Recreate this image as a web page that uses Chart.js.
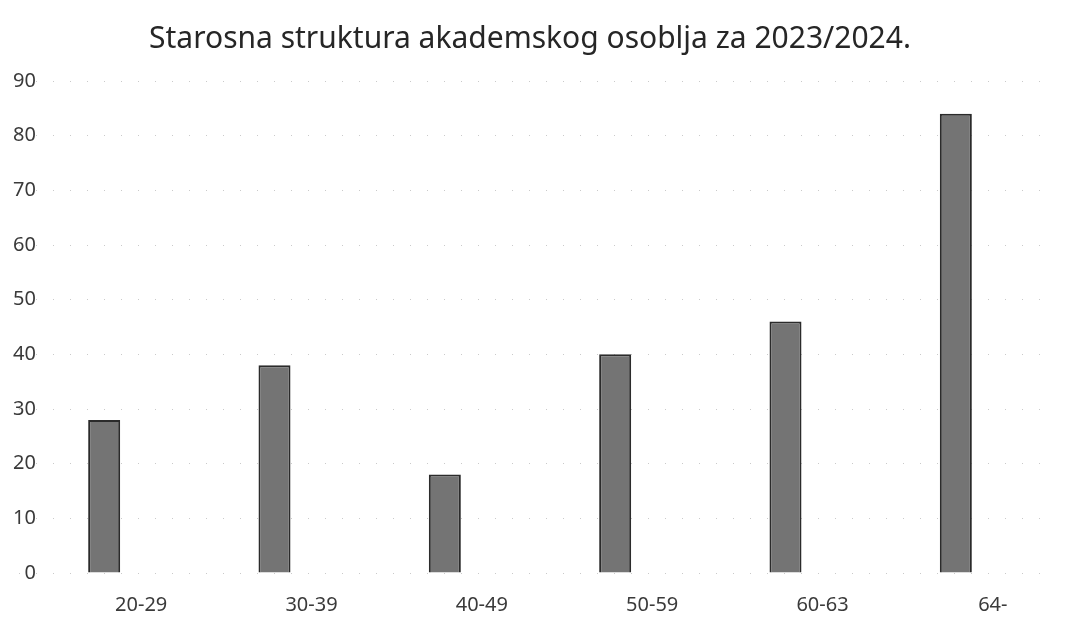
<!DOCTYPE html>
<html>
<head>
<meta charset="utf-8">
<script src="https://cdn.jsdelivr.net/npm/chart.js@4"></script>
<style>
  html, body { margin: 0; padding: 0; background: #fff; }
  #wrap { width: 1069px; height: 636px; }
</style>
</head>
<body>
<div id="wrap"><canvas id="bar-chart"></canvas></div>
<script>
// age groups and headcount per group
const ageGroups = ["20-29", "30-39", "40-49", "50-59", "60-63", "64-"];
const staffCount = [28, 38, 18, 40, 46, 84];
const yTicks = [0, 10, 20, 30, 40, 50, 60, 70, 80, 90];

const txt = '#3a3a3a';

new Chart(document.getElementById("bar-chart"), {
    type: 'bar',
    data: {
      labels: ageGroups,
      datasets: [
        {
          label: "Broj",
          data: staffCount,
          backgroundColor: '#747474',
          borderColor: '#2b2b2b',
          borderWidth: 2,
          barPercentage: 0.188,
          categoryPercentage: 1
        }
      ]
    },
    options: {
      responsive: true,
      maintainAspectRatio: false,
      animation: false,
      layout: { padding: { left: 19, right: 28, top: 0, bottom: 7 } },
      plugins: {
        legend: { display: false },
        tooltip: { enabled: false },
        title: {
          display: true,
          text: 'Starosna struktura akademskog osoblja za 2023/2024.',
          color: '#262626',
          font: { family: 'Noto Sans', size: 30, weight: 'normal' },
          padding: { top: 21, bottom: 24 }
        }
      },
      scales: {
        x: {
          grid: { display: false },
          border: { display: false },
          ticks: {
            color: txt,
            font: { family: 'Noto Sans', size: 20 },
            labelOffset: 37,
            padding: 12,
            maxRotation: 0
          }
        },
        y: {
          min: yTicks[0],
          max: yTicks[yTicks.length - 1],
          afterBuildTicks: (scale) => { scale.ticks = yTicks.map(v => ({ value: v })); },
          border: { display: false, dash: [1, 16] },
          grid: {
            color: '#cacaca',
            lineWidth: 1,
            drawTicks: false
          },
          ticks: {
            color: txt,
            font: { family: 'Noto Sans', size: 20 },
            mirror: true,
            crossAlign: 'far',
            padding: -2
          }
        }
      }
    }
});
</script>
</body>
</html>
